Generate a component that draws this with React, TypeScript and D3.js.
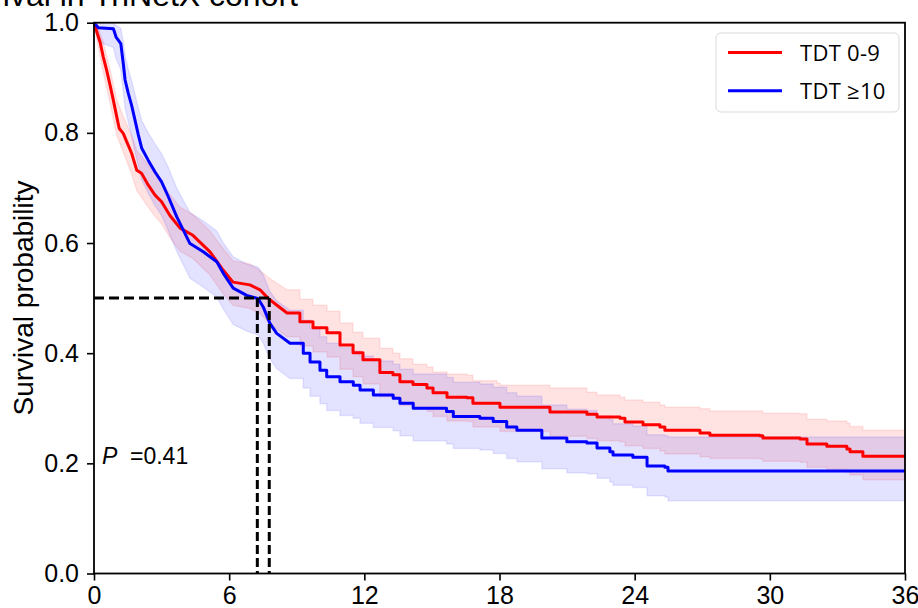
import React, { useEffect, useRef } from "react";
import * as d3 from "d3";

// Kaplan-Meier curves (months, survival probability)
const redTime = [0, 0.04, 0.15, 0.27, 0.41, 0.56, 0.71, 0.86, 1.01, 1.12, 1.3, 1.45, 1.67, 1.9, 2.12, 2.41, 2.71, 3.0, 3.37, 3.82, 4.39, 5.15, 5.73, 6.17, 6.92, 7.37, 7.72, 8.12, 8.57, 9.14, 9.72, 10.34, 10.92, 11.5, 11.94, 12.69, 13.27, 13.58, 14.16, 14.78, 15.05, 15.67, 16.56, 16.82, 17.89, 18.02, 19.35, 20.24, 21.88, 22.33, 23.35, 23.57, 24.37, 25.12, 25.34, 26.59, 26.9, 27.34, 29.56, 29.69, 31.34, 31.65, 32.53, 33.42, 33.56, 34.13, 36];
const redSurv = [1, 0.995, 0.98, 0.965, 0.938, 0.914, 0.887, 0.859, 0.829, 0.808, 0.799, 0.784, 0.763, 0.732, 0.726, 0.705, 0.687, 0.675, 0.65, 0.627, 0.614, 0.584, 0.551, 0.529, 0.524, 0.515, 0.5, 0.487, 0.473, 0.457, 0.446, 0.437, 0.415, 0.401, 0.388, 0.365, 0.361, 0.348, 0.343, 0.337, 0.328, 0.32, 0.319, 0.309, 0.309, 0.302, 0.302, 0.293, 0.289, 0.284, 0.282, 0.275, 0.27, 0.266, 0.26, 0.26, 0.255, 0.251, 0.25, 0.246, 0.244, 0.235, 0.231, 0.226, 0.221, 0.213, 0.213];

const redBandTime = [0, 0.15, 0.41, 0.71, 1.01, 1.3, 1.67, 1.9, 2.41, 2.71, 3.0, 3.37, 3.82, 4.39, 5.15, 5.73, 6.17, 6.92, 7.37, 7.72, 8.12, 8.57, 9.14, 9.72, 10.34, 10.92, 11.5, 11.94, 12.69, 13.27, 13.58, 14.16, 14.78, 15.05, 15.67, 16.56, 16.82, 17.89, 18.02, 19.35, 20.24, 21.88, 22.33, 23.35, 23.57, 24.37, 25.12, 25.34, 26.59, 26.9, 27.34, 29.56, 29.69, 31.34, 31.65, 32.53, 33.42, 33.56, 34.13, 36];
const redLow = [1.0, 0.965, 0.91, 0.855, 0.795, 0.765, 0.725, 0.695, 0.665, 0.648, 0.635, 0.61, 0.585, 0.572, 0.542, 0.508, 0.487, 0.481, 0.472, 0.457, 0.443, 0.43, 0.413, 0.402, 0.393, 0.371, 0.357, 0.344, 0.321, 0.317, 0.305, 0.3, 0.294, 0.285, 0.277, 0.276, 0.266, 0.266, 0.258, 0.258, 0.249, 0.245, 0.241, 0.239, 0.232, 0.227, 0.223, 0.217, 0.217, 0.212, 0.209, 0.208, 0.204, 0.202, 0.193, 0.189, 0.184, 0.179, 0.17, 0.17];
const redHigh = [1.0, 0.995, 0.965, 0.915, 0.86, 0.83, 0.795, 0.768, 0.742, 0.725, 0.712, 0.688, 0.665, 0.652, 0.622, 0.59, 0.568, 0.562, 0.55, 0.538, 0.527, 0.515, 0.498, 0.487, 0.476, 0.455, 0.438, 0.427, 0.409, 0.4, 0.39, 0.38, 0.375, 0.366, 0.362, 0.36, 0.35, 0.346, 0.342, 0.342, 0.337, 0.329, 0.324, 0.32, 0.315, 0.311, 0.306, 0.302, 0.302, 0.299, 0.295, 0.295, 0.291, 0.29, 0.28, 0.277, 0.273, 0.267, 0.26, 0.26];

const blueTime = [0, 0.19, 0.86, 0.98, 1.19, 1.3, 1.38, 1.52, 1.67, 1.82, 1.97, 2.12, 2.41, 2.71, 3.0, 3.3, 3.67, 4.26, 4.85, 5.45, 5.74, 6.18, 6.78, 7.29, 7.51, 7.81, 8.11, 8.7, 9.29, 9.59, 10.03, 10.33, 10.92, 11.51, 11.81, 12.4, 13.28, 13.58, 14.17, 15.65, 15.95, 17.13, 17.72, 18.32, 18.77, 19.49, 19.88, 20.99, 21.88, 22.33, 22.9, 23.04, 23.92, 24.55, 25.34, 25.48, 36];
const blueSurv = [1, 0.991, 0.989, 0.974, 0.962, 0.926, 0.896, 0.872, 0.85, 0.823, 0.796, 0.772, 0.75, 0.729, 0.711, 0.684, 0.648, 0.599, 0.584, 0.566, 0.545, 0.518, 0.505, 0.499, 0.484, 0.454, 0.436, 0.418, 0.4, 0.384, 0.369, 0.357, 0.348, 0.342, 0.333, 0.324, 0.318, 0.309, 0.3, 0.294, 0.285, 0.282, 0.276, 0.266, 0.26, 0.26, 0.246, 0.239, 0.237, 0.228, 0.221, 0.215, 0.211, 0.195, 0.193, 0.186, 0.186];
const blueLow = [1.0, 0.965, 0.955, 0.935, 0.915, 0.875, 0.845, 0.82, 0.795, 0.765, 0.74, 0.715, 0.69, 0.668, 0.65, 0.622, 0.585, 0.536, 0.52, 0.502, 0.48, 0.452, 0.44, 0.433, 0.418, 0.39, 0.372, 0.354, 0.337, 0.322, 0.308, 0.296, 0.287, 0.282, 0.273, 0.265, 0.259, 0.25, 0.241, 0.235, 0.227, 0.224, 0.218, 0.209, 0.203, 0.203, 0.19, 0.183, 0.181, 0.173, 0.166, 0.16, 0.156, 0.141, 0.139, 0.132, 0.132];
const blueHigh = [1.0, 1.0, 1.0, 0.995, 0.99, 0.965, 0.94, 0.915, 0.895, 0.87, 0.845, 0.822, 0.8, 0.78, 0.762, 0.737, 0.7, 0.655, 0.64, 0.622, 0.6, 0.575, 0.562, 0.556, 0.542, 0.512, 0.495, 0.478, 0.46, 0.445, 0.43, 0.418, 0.41, 0.404, 0.395, 0.386, 0.38, 0.371, 0.362, 0.356, 0.347, 0.344, 0.338, 0.328, 0.322, 0.322, 0.306, 0.298, 0.296, 0.286, 0.279, 0.272, 0.268, 0.252, 0.25, 0.248, 0.248];

const xTicks = [0, 6, 12, 18, 24, 30, 36];
const yTicks = [0, 0.2, 0.4, 0.6, 0.8, 1.0];
const medianTimes = [7.25, 7.78];
const legendLabels = ["TDT 0-9", "TDT \u226510"];
const pValue = "=0.41";

const red = "#ff0000";
const blue = "#0000ff";

// where events are dense the tiny steps blur into a slope, so corners are only drawn after this time
const stepFrom = 9;

const App = () => {
  const ref = useRef<SVGSVGElement>(null);
  const width = 918;
  const height = 608;
  const left = 94;
  const right = 905;
  const top = 22.7;
  const bottom = 573.5;

  useEffect(() => {
    document.body.style.margin = "0";
    const svg = d3.select(ref.current);
    svg.selectAll("*").remove();

    const x = d3.scaleLinear().domain([0, 36]).range([left, right]);
    const y = d3.scaleLinear().domain([0, 1]).range([bottom, top]);

    // add step corners (previous value held until next event)
    const stepRows = (t: number[], cols: number[][]) => {
      const rows: number[][] = [];
      t.forEach((d, i) => {
        if (i > 0 && d > stepFrom) rows.push([d, ...cols.map((c) => c[i - 1])]);
        rows.push([d, ...cols.map((c) => c[i])]);
      });
      return rows;
    };

    // title (cut off at the top in the original)
    svg.append("text")
      .attr("x", 298).attr("y", 6)
      .attr("text-anchor", "end")
      .attr("font-family", "Liberation Sans, Arial, sans-serif")
      .attr("font-size", 32)
      .text("Overall survival in TriNetX cohort");

    const band = (t: number[], lo: number[], hi: number[], color: string) => {
      const area = d3.area<number[]>()
        .x((d) => x(d[0]))
        .y0((d) => y(d[1]))
        .y1((d) => y(d[2]));
      svg.append("path")
        .datum(stepRows(t, [lo, hi]))
        .attr("fill", color)
        .attr("fill-opacity", 0.11)
        .attr("stroke", color)
        .attr("stroke-opacity", 0.09)
        .attr("stroke-width", 1.5)
        .attr("d", area);
    };

    const curve = (t: number[], s: number[], color: string) => {
      const line = d3.line<number[]>()
        .x((d) => x(d[0]))
        .y((d) => y(d[1]));
      svg.append("path")
        .datum(stepRows(t, [s]))
        .attr("fill", "none")
        .attr("stroke", color)
        .attr("stroke-width", 3)
        .attr("stroke-linejoin", "round")
        .attr("d", line);
    };

    band(redBandTime, redLow, redHigh, red);
    band(blueTime, blueLow, blueHigh, blue);
    curve(redTime, redSurv, red);
    curve(blueTime, blueSurv, blue);

    // median survival guides
    svg.append("line")
      .attr("x1", x(0)).attr("x2", x(medianTimes[1]))
      .attr("y1", y(0.5)).attr("y2", y(0.5))
      .attr("stroke", "#000").attr("stroke-width", 3)
      .attr("stroke-dasharray", "10 5");
    medianTimes.forEach((m) => {
      svg.append("line")
        .attr("x1", x(m)).attr("x2", x(m))
        .attr("y1", y(0.5)).attr("y2", y(0))
        .attr("stroke", "#000").attr("stroke-width", 3)
        .attr("stroke-dasharray", "9 4");
    });

    // axes
    const font = "Liberation Sans, Arial, sans-serif";
    const xAxis = svg.append("g")
      .attr("transform", "translate(0," + bottom + ")")
      .call(d3.axisBottom(x).tickValues(xTicks).tickSize(7).tickPadding(6).tickFormat(d3.format("d")));
    const yAxis = svg.append("g")
      .attr("transform", "translate(" + left + ",0)")
      .call(d3.axisLeft(y).tickValues(yTicks).tickSize(7).tickPadding(8).tickFormat(d3.format(".1f")));
    [xAxis, yAxis].forEach((g) => {
      g.select(".domain").remove();
      g.selectAll("line").attr("stroke", "#000").attr("stroke-width", 1.6);
      g.selectAll("text").attr("font-family", font).attr("font-size", 25).attr("fill", "#000");
    });

    // frame
    svg.append("rect")
      .attr("x", left).attr("y", top)
      .attr("width", right - left).attr("height", bottom - top)
      .attr("fill", "none").attr("stroke", "#000").attr("stroke-width", 1.8);

    svg.append("text")
      .attr("transform", "translate(33," + 298 + ") rotate(-90)")
      .attr("text-anchor", "middle")
      .attr("font-family", font)
      .attr("font-size", 28)
      .text("Survival probability");

    // p value
    svg.append("text")
      .attr("x", 102).attr("y", 464)
      .attr("font-family", font).attr("font-size", 23)
      .attr("font-style", "italic")
      .text("P");
    svg.append("text")
      .attr("x", 130).attr("y", 464)
      .attr("font-family", font).attr("font-size", 23)
      .text(pValue);

    // legend
    const lg = svg.append("g");
    lg.append("rect")
      .attr("x", 716).attr("y", 33)
      .attr("width", 183).attr("height", 79)
      .attr("rx", 5)
      .attr("fill", "#fff").attr("fill-opacity", 0.85)
      .attr("stroke", "#d9d9d9").attr("stroke-width", 1);
    [red, blue].forEach((c, i) => {
      const ly = 52.5 + i * 38.3;
      lg.append("line")
        .attr("x1", 728).attr("x2", 782)
        .attr("y1", ly).attr("y2", ly)
        .attr("stroke", c).attr("stroke-width", 3);
      lg.append("text")
        .attr("x", 800).attr("y", ly + 8)
        .attr("font-family", "Open Sans, sans-serif")
        .attr("font-size", 22)
        .attr("letter-spacing", 0.3)
        .text(legendLabels[i]);
    });
  }, []);

  return (
    <div>
      <svg ref={ref} width={width} height={height} style={{ display: "block" }}></svg>
    </div>
  );
};

export default App;
